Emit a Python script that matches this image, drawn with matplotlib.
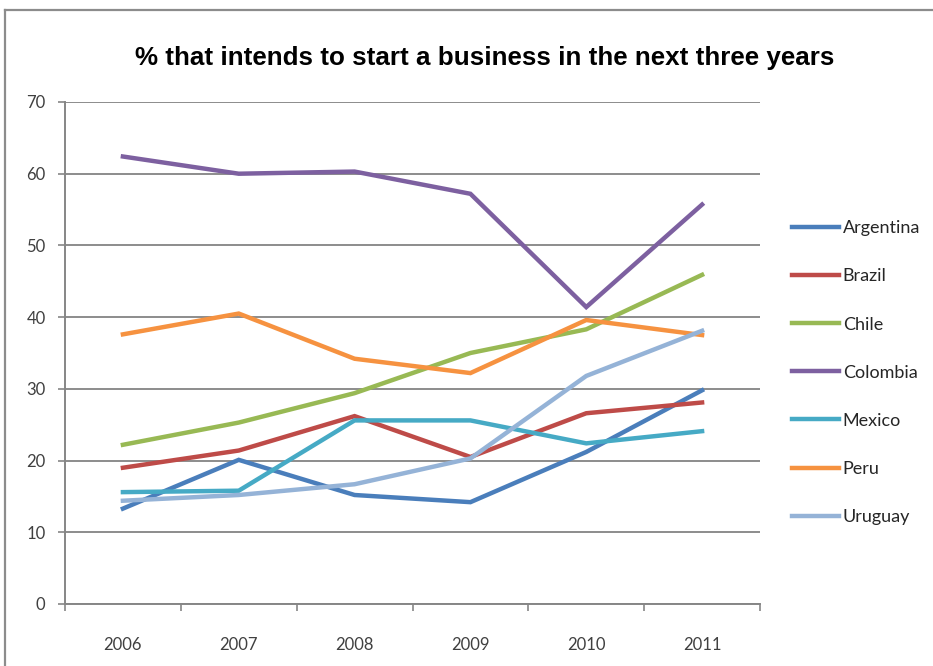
import matplotlib
matplotlib.use("Agg")
import matplotlib.pyplot as plt
from matplotlib.lines import Line2D

years = ["2006", "2007", "2008", "2009", "2010", "2011"]
argentina = [13.3, 20.1, 15.2, 14.2, 21.2, 29.8]
brazil = [19.0, 21.4, 26.2, 20.5, 26.6, 28.1]
chile = [22.2, 25.3, 29.4, 35.0, 38.3, 45.9]
colombia = [62.4, 60.0, 60.3, 57.2, 41.4, 55.7]
mexico = [15.6, 15.8, 25.6, 25.6, 22.4, 24.1]
peru = [37.6, 40.5, 34.2, 32.2, 39.6, 37.5]
uruguay = [14.4, 15.2, 16.7, 20.3, 31.8, 38.1]

series = [
    ("Argentina", argentina, "#4A7EBB"),
    ("Brazil", brazil, "#BE4B48"),
    ("Chile", chile, "#98B954"),
    ("Colombia", colombia, "#7D60A0"),
    ("Mexico", mexico, "#46AAC5"),
    ("Peru", peru, "#F69240"),
    ("Uruguay", uruguay, "#95B3D7"),
]

W, H = 933, 666
fig = plt.figure(figsize=(W / 100, H / 100), dpi=100)
ax = fig.add_axes([65 / W, 1 - 604 / H, (760 - 65) / W, (604 - 102) / H])

x = list(range(len(years)))
for name, vals, col in series:
    ax.plot(x, vals, color=col, lw=3.2, label=name, solid_joinstyle="miter", zorder=3)

ax.set_xlim(-0.5, len(years) - 0.5)
ax.set_ylim(0, 70)
ax.set_yticks(range(0, 71, 10))
ax.set_xticks(x)
ax.set_xticks([i - 0.5 for i in range(len(years) + 1)], minor=True)

lab_font = dict(family="Lato", size=12, color="#404040")
ax.set_xticklabels(years, **lab_font)
ax.set_yticklabels([str(v) for v in range(0, 71, 10)], **lab_font)
ax.tick_params(axis="x", which="major", length=0, pad=24)
ax.tick_params(axis="x", which="minor", length=5, width=1.2, color="#868686", direction="out")
ax.tick_params(axis="y", length=5, width=1.2, color="#868686", direction="out", pad=9)

ax.grid(axis="y", color="#8C8C8C", lw=1.4, zorder=1)
for s in ("top", "right"):
    ax.spines[s].set_visible(False)
for s in ("left", "bottom"):
    ax.spines[s].set_color("#868686")
    ax.spines[s].set_linewidth(1.4)

fig.text(485 / W, 1 - 58 / H, "% that intends to start a business in the next three years",
         ha="center", va="center", fontsize=18.7, fontweight="bold",
         family="Liberation Sans", color="#000000")

leg = fig.legend(loc="upper left", bbox_to_anchor=(776 / W, 1 - 204 / H),
                 frameon=False, handlelength=2.6, handletextpad=0.2,
                 labelspacing=1.78, prop=dict(family="Lato", size=13))
for t in leg.get_texts():
    t.set_color("#262626")

# outer chart frame
fig.add_artist(Line2D([5 / W, 5 / W], [0, 1 - 10 / H], transform=fig.transFigure,
                      color="#8C8C8C", lw=1.6))
fig.add_artist(Line2D([5 / W, 1], [1 - 10 / H, 1 - 10 / H], transform=fig.transFigure,
                      color="#8C8C8C", lw=1.6))

fig.savefig("out.png", dpi=100)
